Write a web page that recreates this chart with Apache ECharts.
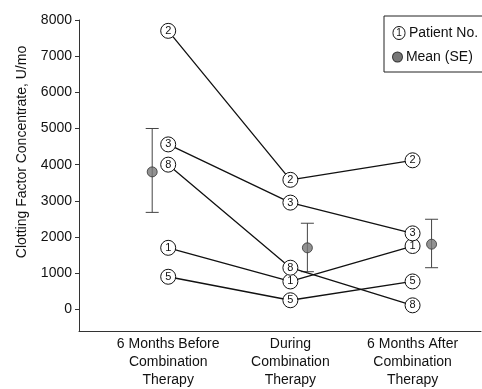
<!DOCTYPE html>
<html>
<head>
<meta charset="utf-8">
<script src="https://cdn.jsdelivr.net/npm/echarts@6/dist/echarts.min.js"></script>
<style>html,body{margin:0;padding:0;background:#fff}#c{width:482px;height:389px}</style>
</head>
<body>
<div id="c"></div>
<script>
// ---- data ----
var categories = ['6 Months Before\nCombination\nTherapy', 'During\nCombination\nTherapy', '6 Months After\nCombination\nTherapy'];
var patientIds = ['1', '2', '3', '5', '8'];
var patient1 = [1700, 770, 1750];
var patient2 = [7700, 3580, 4120];
var patient3 = [4560, 2950, 2100];
var patient5 = [900, 250, 770];
var patient8 = [4000, 1150, 110];
var meanValues = [3800, 1700, 1800];
var seLow = [2680, 1040, 1150];
var seHigh = [5000, 2380, 2490];
var yTicks = [0, 1000, 2000, 3000, 4000, 5000, 6000, 7000, 8000];

var patients = [patient1, patient2, patient3, patient5, patient8];
var FONT = "'Liberation Sans', Arial, Helvetica, sans-serif";
var meanOffsets = [-16, 17, 19];

var chart = echarts.init(document.getElementById('c'), null, {renderer: 'canvas'});

var series = [];
patients.forEach(function (vals, i) {
  series.push({
    name: 'Patient No.',
    type: 'line',
    data: vals.map(function (v, k) { return [k + 1, v]; }),
    symbol: 'circle',
    symbolSize: 15,
    showAllSymbol: true,
    lineStyle: {color: '#111', width: 1.3},
    itemStyle: {color: '#fff', borderColor: '#111', borderWidth: 1},
    label: {show: true, position: 'inside', formatter: patientIds[i], color: '#111', fontSize: 11, fontFamily: FONT},
    emphasis: {disabled: true},
    z: 3
  });
});

series.push({
  name: 'Mean (SE)',
  type: 'custom',
  data: meanValues.map(function (v, k) { return [k + 1, seLow[k], seHigh[k]]; }),
  renderItem: function (params, api) {
    var off = meanOffsets[params.dataIndex];
    var lo = api.coord([api.value(0), api.value(1)]);
    var hi = api.coord([api.value(0), api.value(2)]);
    var x = lo[0] + off;
    var cap = 6.5;
    var st = {stroke: '#444', lineWidth: 1};
    return {
      type: 'group',
      children: [
        {type: 'line', shape: {x1: x, y1: lo[1], x2: x, y2: hi[1]}, style: st},
        {type: 'line', shape: {x1: x - cap, y1: lo[1], x2: x + cap, y2: lo[1]}, style: st},
        {type: 'line', shape: {x1: x - cap, y1: hi[1], x2: x + cap, y2: hi[1]}, style: st}
      ]
    };
  },
  z: 2
});

series.push({
  name: 'Mean (SE)',
  type: 'scatter',
  data: meanValues.map(function (v, k) { return {value: [k + 1, v], symbolOffset: [meanOffsets[k], 0]}; }),
  symbol: 'circle',
  symbolSize: 10,
  itemStyle: {color: '#777', borderColor: '#333', borderWidth: 1},
  emphasis: {disabled: true},
  z: 4
});

var option = {
  animation: false,
  backgroundColor: '#fff',
  textStyle: {fontFamily: FONT},
  grid: {left: 79, right: 1, top: 20, bottom: 55},
  legend: {
    left: 384, top: 16,
    orient: 'vertical',
    data: [{name: 'Patient No.', icon: 'none'}, {name: 'Mean (SE)', icon: 'none'}],
    itemWidth: 0, itemHeight: 14, itemGap: 10,
    padding: [10, 40, 8, 4],
    borderColor: '#222', borderWidth: 1,
    selectedMode: false,
    formatter: function (name) {
      return name === 'Patient No.' ? '{c|1} ' + name : '{d|} ' + name;
    },
    textStyle: {
      color: '#111', fontSize: 14, fontFamily: FONT,
      rich: {
        c: {width: 12, height: 12, align: 'center', borderColor: '#111', borderWidth: 1, borderRadius: 6.5, fontSize: 10, color: '#111', lineHeight: 12, padding: [1, 0, 0, 0]},
        d: {width: 9, height: 9, backgroundColor: '#777', borderColor: '#333', borderWidth: 1, borderRadius: 5}
      }
    }
  },
  xAxis: {
    type: 'value',
    min: 0.27, max: 3.56,
    axisLine: {show: true, onZero: false, lineStyle: {color: '#333', width: 1}},
    axisTick: {show: false},
    splitLine: {show: false},
    axisLabel: {
      customValues: [1, 2, 3],
      formatter: function (v) { return categories[Math.round(v) - 1] || ''; },
      color: '#111', fontSize: 14, lineHeight: 18, margin: 4, fontFamily: FONT
    }
  },
  yAxis: {
    type: 'value',
    min: -600, max: 8000,
    axisLine: {show: true, onZero: false, lineStyle: {color: '#333', width: 1}},
    axisTick: {show: true, customValues: yTicks, length: 4, lineStyle: {color: '#333'}},
    splitLine: {show: false},
    axisLabel: {customValues: yTicks, formatter: function (v) { return String(v); }, color: '#111', fontSize: 14, margin: 7, fontFamily: FONT}
  },
  graphic: [{
    type: 'text',
    x: 22, y: 152,
    rotation: Math.PI / 2,
    style: {text: 'Clotting Factor Concentrate, U/mo', fill: '#111', font: '14px ' + FONT, align: 'center', verticalAlign: 'middle'}
  }],
  series: series
};
chart.setOption(option);
</script>
</body>
</html>
